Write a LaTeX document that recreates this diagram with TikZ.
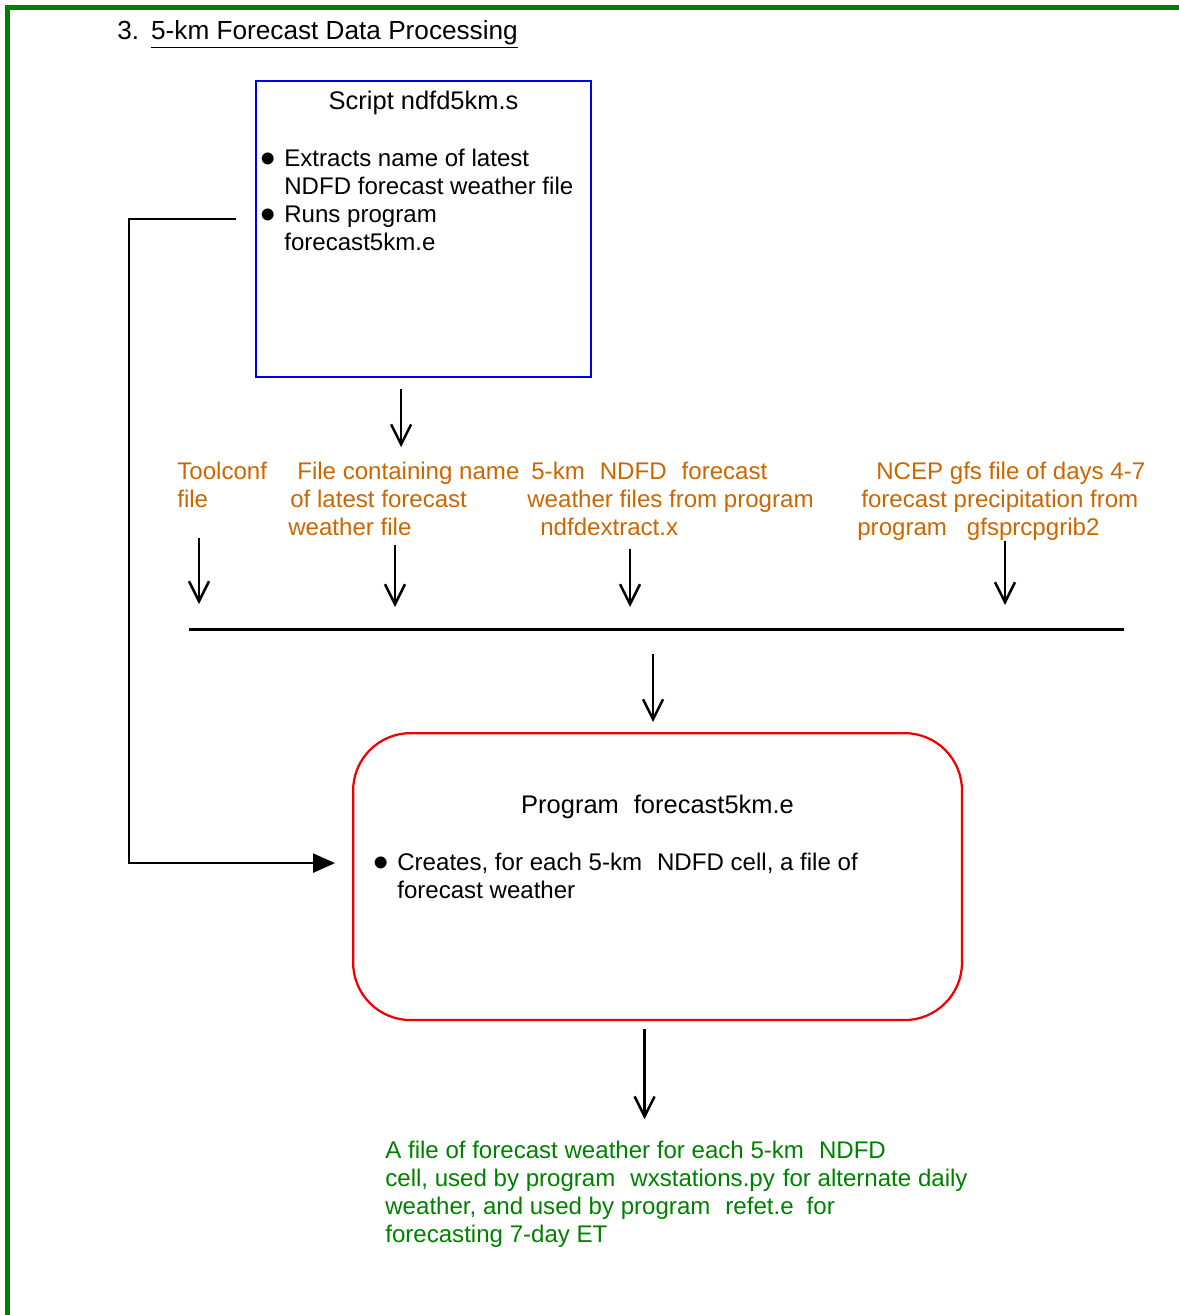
\documentclass[tikz,border=0pt]{standalone}
\usepackage{fontspec}
\setmainfont{Liberation Sans}
\usepackage{tikz}
\usetikzlibrary{positioning, arrows.meta, calc}
\definecolor{framegreen}{HTML}{008000}
\definecolor{labelorange}{HTML}{CC6600}
\definecolor{scriptblue}{HTML}{0000F0}
\definecolor{progred}{HTML}{F00000}
\newcommand{\wgap}{\hspace{0.3cm}}
\newcommand{\bul}{\llap{\raisebox{-0.13cm}{\fontsize{25}{25}\selectfont •}\hspace{0.16cm}}}

\begin{document}
\begin{tikzpicture}[x=0.02cm, y=-0.02cm,
    txt/.style={inner sep=0pt, align=left, anchor=north west,
                font=\fontsize{13.7}{15.9}\selectfont},
    lbl/.style={txt, text=labelorange},
    boxtitle/.style={inner sep=0pt, anchor=base, font=\fontsize{14.5}{16}\selectfont},
    barb/.style={line width=0.05cm, -{Straight Barb[length=0.4cm, width=0.4cm]}},
    feed/.style={line width=0.05cm, -{Triangle[length=0.44cm, width=0.38cm]}}]
    \useasboundingbox (0,0) rectangle (1179,1315);
    % frame and heading
    \draw[framegreen, line width=0.1cm] (7.5,1315) -- (7.5,7.5) -- (1179,7.5);
    \node[inner sep=0pt, anchor=base west, font=\fontsize{14.9}{17}\selectfont] (title) at (117,39)
      {3.\hspace{0.24cm}\underline{5-km Forecast Data Processing}};

    % script box
    \node[draw=scriptblue, line width=0.045cm, anchor=north west,
          minimum width=6.7cm, minimum height=5.92cm] (script) at (255,80) {};
    \node[boxtitle] (scripttitle) at ([yshift=-0.6cm]script.north) {Script ndfd5km.s};
    \node[txt] (scriptitems) at ([xshift=0.58cm, yshift=-1.38cm]script.north west)
      {\bul Extracts name of latest\\NDFD forecast weather file\\\bul Runs program\\forecast5km.e};

    % input files
    \node[lbl] (toolconf) at (177,462) {Toolconf\\file};
    \node[lbl] (namefile) at (288,462)
      {\hspace*{0.18cm}File containing name\\\hspace*{0.04cm}of latest forecast\\weather file};
    \node[lbl] (ndfdfiles) at (527,462)
      {\hspace*{0.08cm}5-km\wgap NDFD\wgap forecast\\weather files from program\\\hspace*{0.26cm}ndfdextract.x};
    \node[lbl] (gfsfile) at (857,462)
      {\hspace*{0.38cm}NCEP gfs file of days 4-7\\\hspace*{0.08cm}forecast precipitation from\\program\hspace{0.4cm}gfsprcpgrib2};

    % collecting line
    \coordinate (busW) at (189,629);
    \coordinate (busE) at (1124,629);
    \coordinate (b1) at (199,629);
    \coordinate (b2) at (395,629);
    \coordinate (b3) at (630,629);
    \coordinate (b4) at (1005,629);
    \draw[line width=0.06cm] (busW) -- (busE);

    % program box
    \node[draw=progred, line width=0.045cm, rounded corners=1.15cm, anchor=north west,
          minimum width=12.18cm, minimum height=5.74cm] (program) at (352,732) {};
    \node[boxtitle] (progtitle) at ([yshift=-1.64cm]program.north) {Program\wgap forecast5km.e};
    \node[txt] (progitems) at ([xshift=0.9cm, yshift=-2.42cm]program.north west)
      {\bul Creates, for each 5-km\wgap NDFD cell, a file of\\forecast weather};

    % output
    \node[txt, text=framegreen] (output) at (385,1141)
      {A file of forecast weather for each 5-km\wgap NDFD\\
       cell, used by program\wgap wxstations.py\hspace{0.16cm}for alternate daily\\
       weather, and used by program\wgap refet.e\hspace{0.26cm}for\\
       forecasting 7-day ET};

    % connectors
    \draw[barb] ([xshift=-0.45cm, yshift=-0.22cm]script.south) -- ++(0,58);
    \draw[barb, shorten <=0.6cm, shorten >=0.5cm] (toolconf.south -| b1) -- (b1);
    \draw[barb, shorten <=0.18cm, shorten >=0.44cm] (namefile.south -| b2) -- (b2);
    \draw[barb, shorten <=0.26cm, shorten >=0.44cm] (ndfdfiles.south -| b3) -- (b3);
    \draw[barb, shorten <=0cm, shorten >=0.48cm] (gfsfile.south -| b4) -- (b4);
    \draw[barb, shorten <=0.5cm, shorten >=0.2cm] ([xshift=-0.09cm]program.north |- busE) -- ([xshift=-0.09cm]program.north);
    \draw[barb] ([xshift=-0.26cm, yshift=-0.16cm]program.south) -- ++(0,90);
    \draw[feed, shorten <=0.38cm, shorten >=0.34cm]
      ([yshift=0.2cm]script.west) -- ++(-126,0) |- ([yshift=0.27cm]program.west);
\end{tikzpicture}
\end{document}
